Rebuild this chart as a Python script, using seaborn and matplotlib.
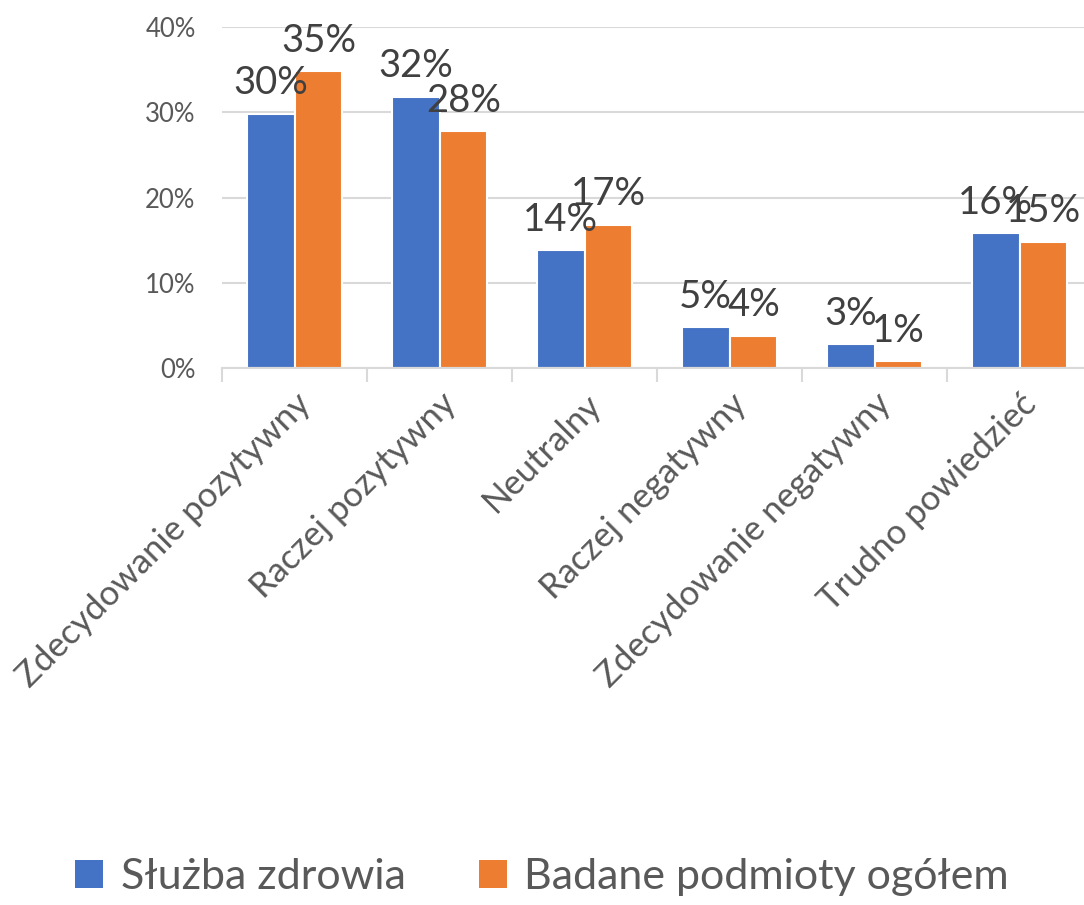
import pandas as pd
import matplotlib
import matplotlib.pyplot as plt
from matplotlib.patches import Patch
from matplotlib.ticker import FixedLocator
import seaborn as sns

categories = ['Zdecydowanie pozytywny', 'Raczej pozytywny', 'Neutralny',
              'Raczej negatywny', 'Zdecydowanie negatywny', 'Trudno powiedzieć']
series_names = ['Służba zdrowia', 'Badane podmioty ogółem']
sluzba = [29.8, 31.8, 13.8, 4.8, 2.8, 15.8]
ogolem = [34.8, 27.8, 16.8, 3.8, 0.8, 14.8]
y_ticks = [0, 10, 20, 30, 40]
colors = ['#4472C4', '#ED7D31']

df = pd.DataFrame({
    'kategoria': categories * 2,
    'seria': [series_names[0]] * len(categories) + [series_names[1]] * len(categories),
    'wartosc': sluzba + ogolem,
})

sns.set_style('white')
plt.rcParams['font.family'] = ['Lato', 'DejaVu Sans']

fig = plt.figure(figsize=(10.84, 9.05), dpi=100)
ax = fig.add_axes([222 / 1084, 1 - 368 / 905, 870 / 1084, (368 - 27) / 905])

sns.barplot(data=df, x='kategoria', y='wartosc', hue='seria', order=categories,
            hue_order=series_names, palette=colors, width=0.66, saturation=1,
            edgecolor='white', linewidth=1.5, legend=False, ax=ax)

ax.set_xlim(-0.5, len(categories) - 0.5)
ax.set_ylim(0, 40)
ax.set_yticks(y_ticks)
ax.set_yticklabels([f'{t}%' for t in y_ticks])
ax.yaxis.grid(True, color='#d9d9d9', linewidth=1.5)
ax.set_axisbelow(True)
for s in ['top', 'right', 'left']:
    ax.spines[s].set_visible(False)
ax.spines['bottom'].set_color('#d9d9d9')
ax.spines['bottom'].set_linewidth(1.5)

ax.set_xlabel('')
ax.set_ylabel('')
ax.tick_params(axis='y', length=0, labelsize=18.5, labelcolor='#595959', pad=19)
ax.tick_params(axis='x', which='major', length=0, labelsize=25, labelcolor='#595959', pad=14)
ax.xaxis.set_minor_locator(FixedLocator([i - 0.5 for i in range(len(categories) + 1)]))
ax.tick_params(axis='x', which='minor', length=10, width=1.5, color='#d9d9d9', bottom=True)
for lab in ax.get_xticklabels():
    lab.set_rotation(45)
    lab.set_ha('right')
    lab.set_rotation_mode('anchor')

for cont in ax.containers:
    ax.bar_label(cont, labels=[f'{round(b.get_height())}%' for b in cont],
                 padding=9, fontsize=27.5, color='#404040')

handles = [Patch(facecolor=c, edgecolor='none') for c in colors]
fig.legend(handles, series_names, loc='lower center', bbox_to_anchor=(0.5, -0.033),
           ncol=2, frameon=False, fontsize=31, handlelength=0.65, handleheight=0.65,
           handletextpad=0.4, columnspacing=1.7, labelcolor='#595959')

fig.savefig('out.png', dpi=100)
